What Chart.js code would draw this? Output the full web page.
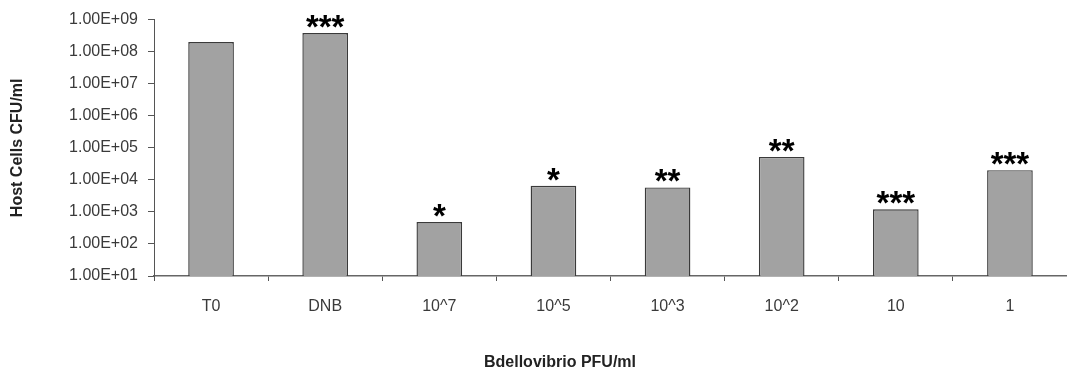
<!DOCTYPE html>
<html>
<head>
<meta charset="utf-8">
<script src="https://cdn.jsdelivr.net/npm/chart.js@4.4.1/dist/chart.umd.min.js"></script>
<style>
    html, body { margin: 0; padding: 0; background: #fff; }
    #wrap { width: 1067px; height: 371px; }
</style>
</head>
<body>
<div id="wrap"><canvas id="hostChart"></canvas></div>
<script>
/* ============================
   Datos
============================ */
const CATEGORIES = ['T0', 'DNB', '10^7', '10^5', '10^3', '10^2', '10', '1']
const CFU_VALUES = [2.0e8, 3.8e8, 4.8e2, 6.5e3, 5.8e3, 5.2e4, 1.2e3, 2.0e4]
const STARS = ['', '***', '*', '*', '**', '**', '***', '***']
const Y_TICK_VALUES = [1e1, 1e2, 1e3, 1e4, 1e5, 1e6, 1e7, 1e8, 1e9]
const Y_TICK_LABELS = ['1.00E+01', '1.00E+02', '1.00E+03', '1.00E+04', '1.00E+05', '1.00E+06', '1.00E+07', '1.00E+08', '1.00E+09']
const X_TITLE = 'Bdellovibrio PFU/ml'
const Y_TITLE = 'Host Cells CFU/ml'

const FONT = 'Liberation Sans, Arial, sans-serif'

// ============================
// Plugin asteriscos + titulo X
// ============================
const starsPlugin = {
    id: 'stars',
    afterDatasetsDraw(chart) {
        const ctx = chart.ctx
        const meta = chart.getDatasetMeta(0)
        ctx.save()
        ctx.fillStyle = '#000'
        ctx.font = `bold 33px ${FONT}`
        ctx.textAlign = 'center'
        ctx.textBaseline = 'alphabetic'
        meta.data.forEach((bar, i) => {
            const txt = STARS[i]
            if (!txt) return
            const m = ctx.measureText(txt)
            ctx.fillText(txt, bar.x, bar.y - 5 - m.actualBoundingBoxDescent)
        })

        // titulo eje X (desplazado a la izquierda como en el original)
        ctx.fillStyle = '#222'
        ctx.font = `bold 16px ${FONT}`
        ctx.fillText(X_TITLE, 560, 367)
        ctx.restore()
    }
}

new Chart(document.getElementById('hostChart'), {
    type: 'bar',
    data: {
        labels: CATEGORIES,
        datasets: [{
            data: CFU_VALUES,
            backgroundColor: '#a2a2a2',
            borderColor: '#3a3a3a',
            borderWidth: 1.4,
            barPercentage: 0.4,
            categoryPercentage: 1
        }]
    },
    options: {
        responsive: true,
        maintainAspectRatio: false,
        animation: false,
        layout: { padding: { top: 17, right: 0, left: 0, bottom: 0 } },
        plugins: { legend: { display: false }, tooltip: { enabled: false } },
        scales: {
            x: {
                grid: { drawOnChartArea: false, drawTicks: true, tickLength: 5, color: '#555', offset: true },
                border: { color: '#666', width: 1.5 },
                ticks: { color: '#3a3a3a', font: { family: FONT, size: 16 }, padding: 16, maxRotation: 0 },
                afterFit: s => { s.height = 95 }
            },
            y: {
                type: 'logarithmic',
                min: 10,
                max: 1e9,
                grid: { drawOnChartArea: false, drawTicks: true, tickLength: 6, color: '#555' },
                border: { color: '#555', width: 1 },
                afterBuildTicks: s => { s.ticks = Y_TICK_VALUES.map(v => ({ value: v, major: true })) },
                ticks: {
                    color: '#3a3a3a',
                    font: { family: FONT, size: 16 },
                    padding: 10,
                    callback: (v) => {
                        const idx = Y_TICK_VALUES.findIndex(t => Math.abs(t - v) / t < 1e-6)
                        return idx >= 0 ? Y_TICK_LABELS[idx] : ''
                    }
                },
                title: { display: true, text: Y_TITLE, color: '#222', font: { family: FONT, size: 16, weight: 'bold' }, padding: { bottom: 0, top: 8 } },
                afterFit: s => { s.width = 154 }
            }
        }
    },
    plugins: [starsPlugin]
})
</script>
</body>
</html>
